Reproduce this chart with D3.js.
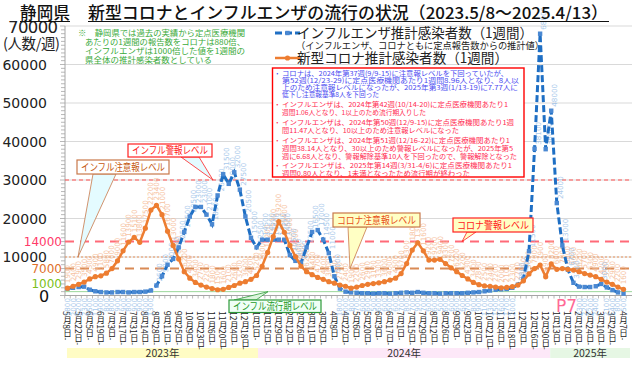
<!DOCTYPE html>
<html><head><meta charset="utf-8">
<script src="https://cdn.jsdelivr.net/npm/d3@7"></script>
<style>
body{margin:0;background:#fff;}
svg{display:block;font-family:"Noto Sans CJK JP","Noto Sans",sans-serif;}
</style></head><body>
<svg id="c" width="641" height="366"></svg>
<script>
// ---- data ----
const categories = [
"5月8日","5月15日","5月22日","5月29日","6月5日","6月12日","6月19日","6月26日","7月3日","7月10日",
"7月17日","7月24日","7月31日","8月7日","8月14日","8月21日","8月28日","9月4日","9月11日","9月18日",
"9月25日","10月2日","10月9日","10月16日","10月23日","10月30日","11月6日","11月13日","11月20日","11月27日",
"12月4日","12月11日","12月18日","12月25日",
"1月1日","1月8日","1月15日","1月22日","1月29日","2月5日","2月12日","2月19日","2月26日","3月4日",
"3月11日","3月18日","3月25日","4月1日","4月8日","4月15日","4月22日","4月29日","5月6日","5月13日",
"5月20日","5月27日","6月3日","6月10日","6月17日","6月24日","7月1日","7月8日","7月15日","7月22日",
"7月29日","8月5日","8月12日","8月19日","8月26日","9月2日","9月9日","9月16日","9月23日","9月30日",
"10月7日","10月14日","10月21日","10月28日","11月4日","11月11日","11月18日","11月25日","12月2日","12月9日",
"12月16日","12月23日","12月30日",
"1月6日","1月13日","1月20日","1月27日","2月3日","2月10日","2月17日","2月24日","3月3日","3月10日",
"3月17日","3月24日","3月31日","4月7日"];
const tickLabels = categories.filter((d,i)=>i%2===0);
const covid = [
1900,2400,2900,3500,4300,4900,5100,5800,7000,9000,
11600,13900,15100,13800,17500,22200,23400,21000,16700,13000,
9500,6200,4500,3400,2700,2200,1800,1500,1600,2100,
2600,3200,3600,4200,5200,7600,11200,15300,19200,16400,
13000,10100,7600,6200,5400,4700,4200,3600,3200,2700,
2400,1900,2200,2600,2900,3100,3300,3600,4000,4500,
5700,8300,11800,13700,11600,9200,9200,9400,8300,7200,
6200,5200,4300,3400,2800,2500,2400,2200,2000,2100,
2300,2700,3800,5600,7000,7900,4900,8200,6800,7000,
6800,6600,6200,5700,5300,4900,4200,3500,2900,2200,1600];
const flu = [
1800,2000,2200,2300,1500,1100,900,800,800,900,
900,800,900,900,1000,1300,2600,5000,8000,9500,
12500,16500,20500,23000,23000,21000,18500,26000,31500,29000,
32000,27500,20500,15000,12500,14500,14500,14500,14500,14500,
10500,9000,8500,12500,16500,17000,14500,11000,5000,1800,
1000,800,700,600,600,500,600,600,500,600,
700,800,700,900,700,600,600,500,600,600,
600,600,700,800,900,1100,1300,1500,1600,1700,
2000,2800,4400,11500,38100,68000,38000,48000,24000,13000,
6700,3300,2300,2200,2200,2400,3000,2100,1400,800,500];
const yTicks = [0,10000,20000,30000,40000,50000,60000,70000];
const refValues = [30000,14000,10000,7000,1000];
const refLabelValues = [14000,7000,1000];
const years = ["2023年","2024年","2025年"];
const legendLabels = ["インフルエンザ推計感染者数（1週間）","（インフルエンザ、コロナともに定点報告数からの推計値）","新型コロナ推計感染者数（1週間）"];
const noteLines = ["※　静岡県では過去の実績から定点医療機関","あたりの1週間の報告数をコロナは880倍、","インフルエンザは1000倍した値を1週間の","県全体の推計感染者数としている"];
const boxLines = [
["コロナは、2024年第37週(9/9-15)に注意報レベルを下回っていたが、",1,"b"],
["第52週(12/23-29)に定点医療機関あたり1週間8.96人となり、8人以",0,"b"],
["上のため注意報レベルになったが、2025年第3週(1/13-19)に7.77人に",0,"b"],
["低下し注意報基準8人を下回った",0,"b"],
["インフルエンザは、2024年第42週(10/14-20)に定点医療機関あたり1",1,"r"],
["週間1.06人となり、1以上のため流行期入りした",0,"r"],
["インフルエンザは、2024年第50週(12/9-15)に定点医療機関あたり1週",1,"r"],
["間11.47人となり、10以上のため注意報レベルになった",0,"r"],
["インフルエンザは、2024年第51週(12/16-22)に定点医療機関あたり1",1,"r"],
["週間38.14人となり、30以上のため警報レベルになったが、2025年第5",0,"r"],
["週に6.68人となり、警報解除基準10人を下回ったので、警報解除となった",0,"r"],
["インフルエンザは、2025年第14週(3/31-4/6)に定点医療機関あたり1",1,"r"],
["週間0.80人となり、1未満となったため流行期が終わった",0,"r"]];
const boxLineEnds = [508,519,518,379,508,426,514,459,510,513,517,512,470];
const boxLineY = [73,80,87,94,104,112,122,130,140,148,156,165,173];

// ---- scales ----
const svg = d3.select("#c");
const x = d3.scaleBand().domain(d3.range(categories.length)).range([64.7,626.3]);
const xc = i => x(i) + x.bandwidth()/2;
const y = d3.scaleLinear().domain([0,70000]).range([295.5,26]);
const X0 = 65, X1 = 632;

// year bands
const yb = [xc(0)-0.5, xc(34)+1.5, xc(87)-1, 630];
const ybColors = ["#fffcc4","#fde8f8","#e6f7e4"];
years.forEach((t,i)=>{
  svg.append("rect").attr("x",yb[i]).attr("y",348).attr("width",yb[i+1]-yb[i]).attr("height",10).attr("fill",ybColors[i]);
  svg.append("text").attr("x",(yb[i]+yb[i+1])/2).attr("y",357).attr("text-anchor","middle")
    .attr("font-size",10.5).attr("fill","#333").text(t);
});

// gridlines
svg.append("g").selectAll("line").data(yTicks.slice(1)).join("line")
  .attr("x1",X0).attr("x2",X1).attr("y1",d=>y(d)).attr("y2",d=>y(d))
  .attr("stroke","#d9d9d9").attr("stroke-width",1);

// y axis with minor ticks
const yAxisG = svg.append("g");
yAxisG.append("line").attr("x1",X0).attr("x2",X0).attr("y1",y(70000)).attr("y2",y(0)).attr("stroke","#a6a6a6");
yAxisG.selectAll("line.mt").data(d3.range(0,70001,1000)).join("line").attr("class","mt")
  .attr("x1",d=>d%10000===0?X0-5:X0-4).attr("x2",X0).attr("y1",d=>y(d)).attr("y2",d=>y(d))
  .attr("stroke","#a6a6a6").attr("stroke-width",0.8);
svg.append("g").selectAll("text").data(yTicks.filter(d=>d>0&&d<70000)).join("text")
  .attr("x",47).attr("y",d=>y(d)+5).attr("text-anchor","end").attr("font-size",14)
  .attr("font-family","DejaVu Sans").attr("fill","#222").text(d=>d);
svg.append("text").attr("x",8).attr("y",33).attr("font-size",16.5).attr("font-family","DejaVu Sans")
  .attr("fill","#222").attr("textLength",50).text("70000");
svg.append("text").attr("x",3).attr("y",49).attr("font-size",14.5).attr("fill","#222")
  .attr("textLength",57).text("(人数/週)");
svg.append("text").attr("x",44).attr("y",302).attr("text-anchor","middle").attr("font-size",16)
  .attr("font-family","DejaVu Sans").attr("fill","#111").text("0");
const refLabelColor = {14000:"#ff3a6a",7000:"#e0702c",1000:"#7cbf1a"};
svg.append("g").selectAll("text").data(refLabelValues).join("text")
  .attr("x",62).attr("y",d=>y(d)+(d===1000?-3.5:4)).attr("text-anchor","end").attr("font-size",12)
  .attr("font-family","DejaVu Sans").attr("fill",d=>refLabelColor[d]).text(d=>d);

// reference lines
const refStyle = {
  30000:{c:"#ff5050",w:1,d:"4,3"},
  14000:{c:"#ff6a78",w:2,d:"9,6"},
  10000:{c:"#e8925a",w:1,d:"2,2"},
  7000:{c:"#d98a55",w:2,d:"9,6"},
  1000:{c:"#9ad79a",w:1,d:null}};
svg.append("g").selectAll("line").data(refValues).join("line")
  .attr("x1",X0).attr("x2",X1).attr("y1",d=>y(d)).attr("y2",d=>y(d))
  .attr("stroke",d=>refStyle[d].c).attr("stroke-width",d=>refStyle[d].w)
  .attr("stroke-dasharray",d=>refStyle[d].d);

// x axis
svg.append("line").attr("x1",X0).attr("x2",X1).attr("y1",y(0)).attr("y2",y(0)).attr("stroke","#a6a6a6");
svg.append("g").selectAll("line").data(d3.range(categories.length+1)).join("line")
  .attr("x1",i=>64.7+i*x.step()).attr("x2",i=>64.7+i*x.step()).attr("y1",y(0)).attr("y2",y(0)+3)
  .attr("stroke","#a6a6a6").attr("stroke-width",0.8);
svg.append("g").selectAll("text").data(tickLabels).join("text")
  .attr("x",(d,i)=>xc(i*2)).attr("y",311)
  .attr("writing-mode","vertical-rl").attr("font-size",8.5).attr("fill","#222")
  .text(d=>d+"-");

// data labels
const lab = svg.append("g").attr("font-size",7.2).attr("font-family","DejaVu Sans");
lab.selectAll("text.c").data(covid).join("text").attr("class","c")
  .attr("transform",(d,i)=>`translate(${xc(i)+2.5},${y(d)-5}) rotate(-90)`)
  .attr("fill","#f5b48a").attr("opacity",0.8).text(d=>d);
lab.selectAll("text.f").data(flu).join("text").attr("class","f")
  .attr("transform",(d,i)=>d>=2500?`translate(${xc(i)+6},${y(d)-4}) rotate(-90)`:`translate(${xc(i)+2.5},${298}) rotate(-90)`)
  .attr("text-anchor",d=>d>=2500?"start":"end")
  .attr("fill","#8fb9e6").attr("opacity",0.75).text(d=>d);

// series
const line = d3.line().x((d,i)=>xc(i)).y(d=>y(d));
svg.append("path").datum(flu).attr("d",line).attr("fill","none").attr("stroke","#1f6fc4")
  .attr("stroke-width",3).attr("stroke-dasharray","7,3");
svg.append("g").selectAll("rect").data(flu).join("rect")
  .attr("x",(d,i)=>xc(i)-2.2).attr("y",d=>y(d)-2.2).attr("width",4.4).attr("height",4.4).attr("fill","#4a88d2");
svg.append("path").datum(covid).attr("d",line).attr("fill","none").attr("stroke","#ed7d31").attr("stroke-width",2.5);
svg.append("g").selectAll("circle").data(covid).join("circle")
  .attr("cx",(d,i)=>xc(i)).attr("cy",d=>y(d)).attr("r",2.6).attr("fill","#ed7d31");

// callouts
function callout(bx,by,bw,bh,fill,stroke,tcol,text,tri,tfill){
  svg.append("path").attr("d",`M${tri[0]}L${tri[1]}L${tri[2]}Z`).attr("fill",tfill).attr("stroke",stroke).attr("stroke-width",0.8);
  svg.append("rect").attr("x",bx).attr("y",by).attr("width",bw).attr("height",bh).attr("fill",fill).attr("stroke",stroke).attr("stroke-width",1.2);
  svg.append("text").attr("x",bx+bw/2).attr("y",by+bh/2+3.5).attr("text-anchor","middle").attr("font-size",10)
    .attr("fill",tcol).attr("textLength",bw-8).attr("lengthAdjust","spacingAndGlyphs").text(text);
}
callout(77,160,92,14,"#fff","#c8784a","#c55a11","インフル注意報レベル",[[93,174],[116,174],[78,y(10000)]],"#e4fbff");
callout(128,144,84,13,"#fff","#ff2020","#ff1a1a","インフル警報レベル",[[181,157],[199,157],[213,y(30000)]],"#e4fbff");
callout(333,213,87,14,"#ffffc4","#c8784a","#e8501a","コロナ注意報レベル",[[348,227],[367,227],[350,y(7000)]],"#ffffc4");
callout(453,218,80,14,"#ffffc4","#ff2020","#ff1a1a","コロナ警報レベル",[[467,232],[476,232],[462,y(14000)]],"#ffffc4");
callout(229,300,92,12.5,"#effff6","#2e9a3a","#1f9a2a","インフル流行期レベル",[[234,300],[256,300],[268,y(1000)]],"#dcf5dc");

// P7
svg.append("text").attr("x",556).attr("y",312).attr("font-size",17).attr("font-family","DejaVu Sans")
  .attr("fill","#ff6a96").text("P7");

// red info box
svg.append("rect").attr("x",272.5).attr("y",68).attr("width",251.5).attr("height",109)
  .attr("fill","#fff").attr("stroke","#ff0000").attr("stroke-width",1.4);
const bcol = {b:"#4a4af0",r:"#ff2a50"};
boxLines.forEach((l,i)=>{
  if(l[1]) svg.append("text").attr("x",274).attr("y",boxLineY[i]+2.5).attr("font-size",6.6).attr("fill",bcol[l[2]]).text("・");
  svg.append("text").attr("x",282).attr("y",boxLineY[i]+2.5).attr("font-size",6.6).attr("fill",bcol[l[2]])
    .attr("textLength",boxLineEnds[i]-282).attr("lengthAdjust","spacingAndGlyphs").text(l[0]);
});

// legend
svg.append("line").attr("x1",275).attr("x2",300).attr("y1",33).attr("y2",33).attr("stroke","#1f6fc4").attr("stroke-width",3).attr("stroke-dasharray","7,3");
svg.append("rect").attr("x",285.3).attr("y",30.8).attr("width",4.4).attr("height",4.4).attr("fill","#4a88d2");
svg.append("text").attr("x",297).attr("y",37.5).attr("font-size",14).attr("fill","#222")
  .attr("textLength",236).attr("lengthAdjust","spacingAndGlyphs").text(legendLabels[0]);
svg.append("text").attr("x",296).attr("y",48.5).attr("font-size",9.5).attr("fill","#222")
  .attr("textLength",248).attr("lengthAdjust","spacingAndGlyphs").text(legendLabels[1]);
svg.append("line").attr("x1",275).attr("x2",300).attr("y1",58).attr("y2",58).attr("stroke","#ed7d31").attr("stroke-width",2.5);
svg.append("circle").attr("cx",287.5).attr("cy",58).attr("r",2.6).attr("fill","#ed7d31");
svg.append("text").attr("x",297).attr("y",63).attr("font-size",14).attr("fill","#222")
  .attr("textLength",211).attr("lengthAdjust","spacingAndGlyphs").text(legendLabels[2]);

// notes
const noteX=[78,85,85,85], noteEnd=[245,245,245,212], noteY=[32.5,42,51,59.5];
noteLines.forEach((t,i)=>{
  svg.append("text").attr("x",noteX[i]).attr("y",noteY[i]+3).attr("font-size",8).attr("fill","#3aaa3a")
    .attr("textLength",noteEnd[i]-noteX[i]).attr("lengthAdjust","spacingAndGlyphs").text(t);
});

// title
svg.append("text").attr("x",20).attr("y",18.5).attr("font-size",16.5).attr("font-weight",500).attr("fill","#111")
  .attr("textLength",50).text("静岡県");
svg.append("text").attr("x",88).attr("y",18.5).attr("font-size",16.5).attr("font-weight",500).attr("fill","#111")
  .attr("textLength",520).attr("lengthAdjust","spacingAndGlyphs").text("新型コロナとインフルエンザの流行の状況（2023.5/8～2025.4/13）");
svg.append("line").attr("x1",20).attr("x2",70).attr("y1",21.5).attr("y2",21.5).attr("stroke","#111").attr("stroke-width",1.2);
svg.append("line").attr("x1",88).attr("x2",609).attr("y1",21.5).attr("y2",21.5).attr("stroke","#111").attr("stroke-width",1.2);
</script>
</body></html>
